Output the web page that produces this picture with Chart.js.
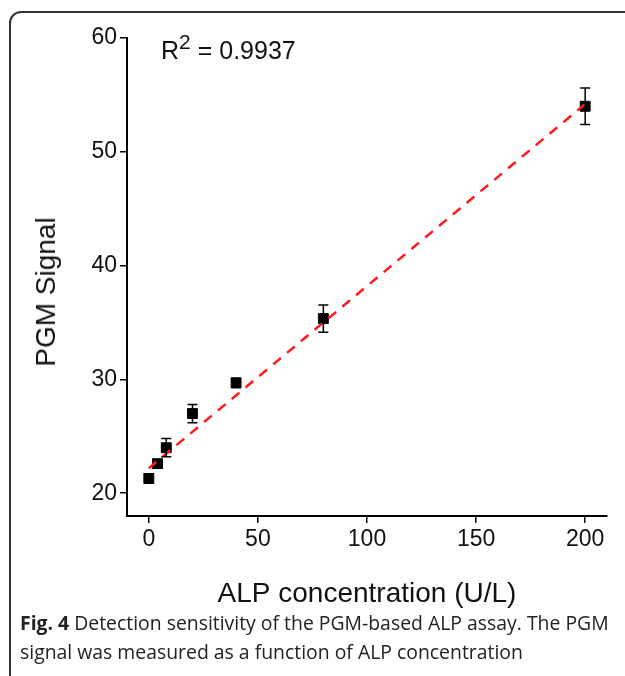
<!DOCTYPE html>
<html>
<head>
<meta charset="utf-8">
<script src="https://cdn.jsdelivr.net/npm/chart.js@4.4.0/dist/chart.umd.min.js"></script>
<style>
  body { margin: 0; background: #fff; width: 625px; height: 676px; overflow: hidden; position: relative; font-family: "Liberation Sans", Arial, sans-serif; }
  #frame { position: absolute; left: 9px; top: 11px; width: 700px; height: 720px; border: 2px solid #333; border-top-left-radius: 12px; box-sizing: border-box; }
  #wrap { position: absolute; left: 0; top: 0; width: 625px; height: 615px; }
  #rsq { position: absolute; left: 161px; top: 31px; font-size: 25px; color: #111; white-space: nowrap; }
  #rsq sup { font-size: 21px; position: relative; top: -1px; }
  #ytitle { position: absolute; left: 46px; top: 292px; transform: translate(-50%, -50%) rotate(-90deg); font-size: 28px; color: #111; white-space: nowrap; }
  #caption { position: absolute; left: 20px; top: 608px; width: 600px; font-family: "Open Sans", sans-serif; font-size: 19.4px; line-height: 29px; color: #222; }
</style>
</head>
<body>
<div id="frame"></div>
<div id="wrap"><canvas id="grafico"></canvas></div>
<div id="rsq">R<sup>2</sup> = 0.9937</div>
<div id="ytitle">PGM Signal</div>
<div id="caption"><b>Fig. 4</b> Detection sensitivity of the PGM-based ALP assay. The PGM signal was measured as a function of ALP concentration</div>
<script>
// dados
const concentration = [0, 4, 8, 20, 40, 80, 200];
const pgmSignal = [21.3, 22.6, 24.0, 27.0, 29.7, 35.35, 54.0];
const signalError = [0.4, 0.35, 0.8, 0.8, 0.4, 1.2, 1.6];
const fitX = [0, 200];
const fitY = [22.2, 54.2];
const xTicks = [0, 50, 100, 150, 200];
const yTicks = [20, 30, 40, 50, 60];

// barras de erro
const errorBars = {
    id: 'errorBars',
    afterDatasetsDraw(chart) {
        const ctx = chart.ctx;
        const xs = chart.scales.x, ys = chart.scales.y;
        ctx.save();
        ctx.strokeStyle = '#000';
        ctx.lineWidth = 1.5;
        concentration.forEach((c, i) => {
            const px = xs.getPixelForValue(c);
            const top = ys.getPixelForValue(pgmSignal[i] + signalError[i]);
            const bot = ys.getPixelForValue(pgmSignal[i] - signalError[i]);
            ctx.beginPath();
            ctx.moveTo(px, top); ctx.lineTo(px, bot);
            ctx.moveTo(px - 5, top); ctx.lineTo(px + 5, top);
            ctx.moveTo(px - 5, bot); ctx.lineTo(px + 5, bot);
            ctx.stroke();
        });
        ctx.restore();
    }
};

const ctx = document.getElementById('grafico').getContext('2d');
new Chart(ctx, {
    type: 'scatter',
    data: {
        datasets: [
            {
                label: 'PGM',
                data: concentration.map((c, i) => ({ x: c, y: pgmSignal[i] })),
                pointStyle: 'rect',
                pointRadius: 7,
                pointHoverRadius: 7,
                backgroundColor: '#000',
                borderColor: '#000',
                order: 2
            },
            {
                label: 'fit',
                type: 'line',
                data: fitX.map((c, i) => ({ x: c, y: fitY[i] })),
                borderColor: '#ff1a1a',
                borderWidth: 2.5,
                borderDash: [10, 8],
                pointRadius: 0,
                fill: false,
                order: 1
            }
        ]
    },
    options: {
        responsive: true,
        maintainAspectRatio: false,
        animation: false,
        layout: { padding: { left: 0, right: 18, top: 38, bottom: 0 } },
        plugins: { legend: { display: false }, tooltip: { enabled: false } },
        scales: {
            x: {
                type: 'linear',
                min: -10, max: 210,
                afterBuildTicks: (s) => { s.ticks = xTicks.map(v => ({ value: v })); },
                afterFit: (s) => { s.height = 99; },
                grid: { display: true, drawOnChartArea: false, drawTicks: true, tickLength: 7, color: '#000', lineWidth: 1.5 },
                border: { display: true, color: '#000', width: 2 },
                ticks: { color: '#111', font: { family: 'Liberation Sans', size: 23 }, padding: 3, maxRotation: 0 },
                title: { display: true, text: 'ALP concentration (U/L)', color: '#111', font: { family: 'Liberation Sans', size: 28 }, padding: { top: 0, bottom: 4 } }
            },
            y: {
                type: 'linear',
                min: 18, max: 60,
                afterBuildTicks: (s) => { s.ticks = yTicks.map(v => ({ value: v })); },
                afterFit: (s) => { s.width = 127; },
                grid: { display: true, drawOnChartArea: false, drawTicks: true, tickLength: 7, color: '#000', lineWidth: 1.5 },
                border: { display: true, color: '#000', width: 2 },
                ticks: { color: '#111', font: { family: 'Liberation Sans', size: 23 }, padding: 3 }
            }
        }
    },
    plugins: [errorBars]
});
</script>
</body>
</html>
